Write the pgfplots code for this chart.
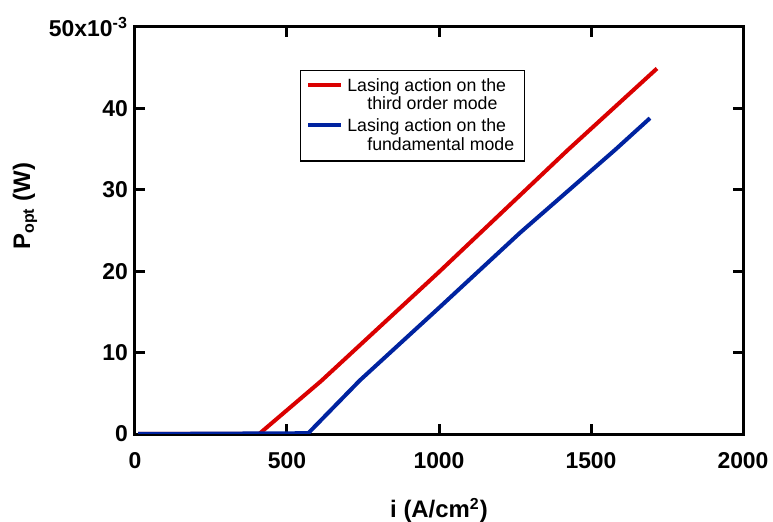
\documentclass[border=0pt]{standalone}
\usepackage{fontspec}
\setmainfont{Liberation Sans}
\usepackage{pgfplots}
\pgfplotsset{compat=1.18}
\definecolor{redline}{RGB}{218,0,0}
\definecolor{blueline}{RGB}{0,35,160}

\begin{document}
\begin{tikzpicture}
\begin{axis}[
  name=ax,
  scale only axis,
  width=304bp, height=203.5bp,
  xmin=0, xmax=2000, ymin=0, ymax=0.05,
  axis line style={line width=1.5bp},
  tick style={line width=1.5bp, black},
  major tick length=5bp,
  tick align=inside,
  xtick={0,500,1000,1500,2000},
  xticklabels={0,500,1000,1500,2000},
  ytick={0,0.01,0.02,0.03,0.04,0.05},
  yticklabels={0,10,20,30,40,50x10\textsuperscript{-3}},
  scaled y ticks=false,
  ticklabel style={font=\bfseries\fontsize{11.5}{13}\selectfont},
  xticklabel style={yshift=-5.5bp},
  xlabel={i (A/cm\textsuperscript{2})},
  ylabel={P\textsubscript{opt} (W)},
  label style={font=\bfseries\fontsize{12}{14}\selectfont},
  xlabel style={at={(rel axis cs:0.5,0)}, anchor=north, yshift=-28.5bp},
  ylabel style={at={(rel axis cs:-0.181,0.56)}, anchor=center},
  legend style={at={(rel axis cs:0.271,0.894)}, anchor=north west,
    draw=black, line width=0.6bp,
    font=\fontsize{8.9}{9.2}\selectfont,
    cells={anchor=west, align=left}, row sep=-1bp},
  legend image code/.code={\draw[#1] (0bp,5.5bp) -- (16.5bp,5.5bp);},
]
% red: lasing on the third order mode (P in W)
\addplot[redline, line width=2bp] coordinates {
(10,0) (408,0) (612,0.0065) (1000,0.0199) (1424,0.0349) (1717,0.0449)
};
\addlegendentry{Lasing action on the\\\hspace*{10bp}third order mode}
% blue: lasing on the fundamental mode
\addplot[blueline, line width=2bp] coordinates {
(10,0) (570,0.0001) (740,0.0066) (1000,0.0155) (1266,0.0247) (1579,0.0349) (1694,0.0388)
};
\addlegendentry{Lasing action on the\\\hspace*{10bp}fundamental mode}
\end{axis}
\pgfresetboundingbox
\path[use as bounding box] ([shift={(-67.5bp,-44bp)}]ax.south west) rectangle ++(386.5bp,261bp);
\end{tikzpicture}
\end{document}
